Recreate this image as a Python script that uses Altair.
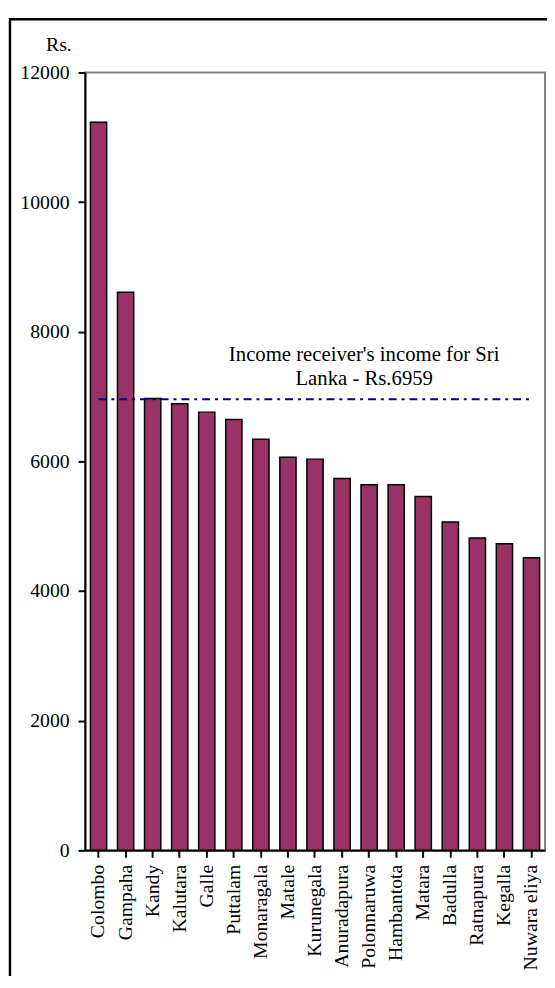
import altair as alt
import pandas as pd

districts = ["Colombo", "Gampaha", "Kandy", "Kalutara", "Galle", "Puttalam",
             "Monaragala", "Matale", "Kurunegala", "Anuradapura", "Polonnaruwa",
             "Hambantota", "Matara", "Badulla", "Ratnapura", "Kegalla", "Nuwara eliya"]
income = [11230, 8610, 6970, 6890, 6760, 6645, 6340, 6065, 6035, 5735, 5640,
          5640, 5460, 5065, 4820, 4730, 4515]
national_avg = 6959
y_ticks = [0, 2000, 4000, 6000, 8000, 10000, 12000]
note_lines = ["Income receiver's income for Sri", "Lanka - Rs.6959"]
note_anchor = "Polonnaruwa"

df = pd.DataFrame({"District": districts, "Income": income})

FONT = "Liberation Serif"

x_scale = alt.Scale(paddingInner=0.4)
x_axis = alt.Axis(title=None, labelAngle=270, labelPadding=7, labelOverlap=False)
y_scale = alt.Scale(domain=[0, 12000], nice=False)
y_axis = alt.Axis(values=y_ticks, format="d", grid=False, title="Rs.", titleAngle=0,
                  titleX=-40, titleY=-22, titleAlign="left", titleBaseline="alphabetic",
                  labelPadding=9)

bars = alt.Chart(df).mark_bar(fill="#993366", stroke="black", strokeWidth=1.5).encode(
    x=alt.X("District:N", sort=districts, scale=x_scale, axis=x_axis),
    y=alt.Y("Income:Q", scale=y_scale, axis=y_axis),
)

avg_line = alt.Chart(df).mark_line(color="#000080", strokeWidth=2,
                                    strokeDash=[8, 5, 3, 5]).encode(
    x=alt.X("District:N", sort=districts, scale=x_scale, axis=x_axis),
    y=alt.Y(datum=national_avg, type="quantitative", scale=y_scale, axis=y_axis),
)

note = alt.Chart(pd.DataFrame({"a": [0]})).mark_text(
    text=note_lines, font=FONT, fontSize=21, color="black",
    align="center", baseline="alphabetic", lineHeight=25, dx=-5, dy=-39,
).encode(
    x=alt.X(datum=note_anchor, type="nominal", scale=x_scale, axis=x_axis),
    y=alt.Y(datum=national_avg, type="quantitative", scale=y_scale, axis=y_axis),
)

frame = alt.Chart(pd.DataFrame({"a": [0]})).mark_rect(
    fillOpacity=0, stroke="black", strokeWidth=2.5
).encode(
    x=alt.value(-76), x2=alt.value(800), y=alt.value(-54), y2=alt.value(1300)
)

chart = alt.layer(bars, avg_line, note, frame).properties(
    width=466, height=788,
    padding={"left": 78, "top": 59, "right": 2, "bottom": 121},
    autosize=alt.AutoSizeParams(type="none"),
    background="white",
).configure_view(
    stroke="#808080", strokeWidth=2
).configure_axis(
    labelFont=FONT, labelFontSize=20, labelColor="black",
    titleFont=FONT, titleFontSize=20, titleFontWeight="normal", titleColor="black",
    domainColor="black", domainWidth=2, tickColor="black", tickWidth=2, tickSize=7,
)

chart.save("out.html", embed_options={"renderer": "svg", "actions": False})
